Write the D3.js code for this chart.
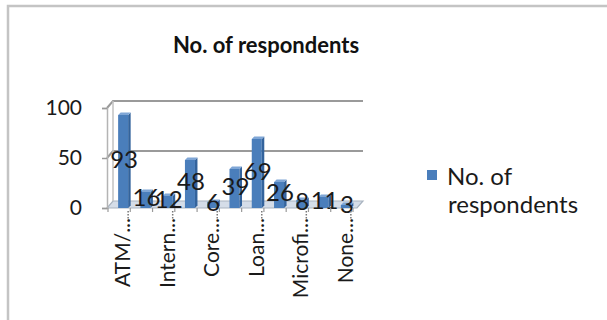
<!DOCTYPE html>
<html>
<head>
<meta charset="utf-8">
<script src="https://cdn.jsdelivr.net/npm/d3@7"></script>
<style>
  html, body { margin: 0; padding: 0; background: #fff; }
  svg { display: block; }
</style>
</head>
<body>
<script>
// Respondents per service (11 categories; only every second axis label is shown)
const categoryLabels = ["ATM/...", null, "Intern...", null, "Core...", null, "Loan...", null, "Microfi...", null, "None..."];
const respondents = [93, 16, 12, 48, 6, 39, 69, 26, 8, 11, 3];
const yTicks = [0, 50, 100];
const seriesName = "No. of respondents";
const chartTitle = "No. of respondents";

const W = 607, H = 320;
const FONT = "Lato, 'Open Sans', sans-serif";
const BAR = "#4a7ebb";

const svg = d3.select("body").append("svg").attr("width", W).attr("height", H);

// chart frame
svg.append("rect").attr("x", 8).attr("y", 6).attr("width", 640).attr("height", 360)
  .attr("fill", "#fff").attr("stroke", "#c4c4c4").attr("stroke-width", 2.5);

svg.append("text").attr("x", 266).attr("y", 53).attr("text-anchor", "middle")
  .attr("font-family", FONT).attr("font-weight", 700).attr("font-size", 22).attr("fill", "#111")
  .text(chartTitle);

// front plane scales; back wall is offset for the 3D look
const x = d3.scaleBand().domain(d3.range(respondents.length)).range([112, 357]);
const y = d3.scaleLinear().domain([0, 100]).range([208, 108]);
const depth = { dx: 6, dy: -7 };
const x0 = 107, x1 = 357;

const g = svg.append("g");

// floor
g.append("path")
  .attr("d", `M${x0},${y(0)} L${x1},${y(0)} L${x1 + depth.dx},${y(0) + depth.dy} L${x0 + depth.dx},${y(0) + depth.dy} Z`)
  .attr("fill", "#d5dde8").attr("stroke", "#a9b3bf").attr("stroke-width", 1.2);

// gridlines on back wall plus side wall
yTicks.forEach(t => {
  if (t === 0) return;
  g.append("path")
    .attr("d", `M${x0},${y(t)} L${x0 + depth.dx},${y(t) + depth.dy} L${x1 + depth.dx},${y(t) + depth.dy}`)
    .attr("fill", "none").attr("stroke", "#9a9a9a").attr("stroke-width", 2);
});
g.append("line").attr("x1", x0 + depth.dx).attr("x2", x0 + depth.dx)
  .attr("y1", y(100) + depth.dy).attr("y2", y(0) + depth.dy)
  .attr("stroke", "#c2c2c2").attr("stroke-width", 1.5);

// value axis
const yAxis = d3.axisLeft(y).tickValues(yTicks).tickSize(5).tickPadding(20);
const ya = g.append("g").attr("transform", `translate(${x0},0)`).call(yAxis);
ya.select(".domain").attr("stroke", "#b4b4b4").attr("stroke-width", 1.5);
ya.selectAll(".tick line").attr("stroke", "#9a9a9a").attr("stroke-width", 1.5);
ya.selectAll(".tick text").attr("font-family", FONT).attr("font-size", 21).attr("fill", "#1a1a1a")
  .attr("dy", "0.3em").attr("x", -25);

// bars
const bw = x.bandwidth() * 0.45;
const bars = g.selectAll(".bar").data(respondents).join("g").attr("class", "bar");
bars.append("rect")
  .attr("x", (d, i) => x(i) + (x.bandwidth() - bw) / 2)
  .attr("y", d => y(d))
  .attr("width", bw)
  .attr("height", d => y(0) - y(d))
  .attr("fill", BAR);
bars.append("path")
  .attr("d", (d, i) => {
    const r = x(i) + (x.bandwidth() + bw) / 2;
    return `M${r},${y(d)} L${r + 2.5},${y(d) - 2.5} L${r + 2.5},${y(0) - 2.5} L${r},${y(0)} Z`;
  })
  .attr("fill", "#33639c");
bars.append("path")
  .attr("d", (d, i) => {
    const l = x(i) + (x.bandwidth() - bw) / 2;
    return `M${l},${y(d)} L${l + bw},${y(d)} L${l + bw + 2.5},${y(d) - 2.5} L${l + 2.5},${y(d) - 2.5} Z`;
  })
  .attr("fill", "#7fa6d6");

// category axis: boundary ticks and labels
const cx = i => x(i) + x.bandwidth() / 2;
d3.range(respondents.length + 1).forEach(i => {
  const xx = 112 + i * x.step() - 4;
  g.append("line").attr("x1", xx).attr("x2", xx).attr("y1", y(0)).attr("y2", y(0) + 4)
    .attr("stroke", "#9a9a9a").attr("stroke-width", 1.2);
});
categoryLabels.forEach((lab, i) => {
  if (!lab) return;
  g.append("line").attr("x1", cx(i) + 5).attr("x2", cx(i) + 5).attr("y1", y(0) + 3).attr("y2", y(0) + 12)
    .attr("stroke", "#777").attr("stroke-width", 1.5).attr("stroke-dasharray", "1.5,1.5");
  g.append("text")
    .attr("transform", `translate(${cx(i) + 7},218) rotate(-90)`)
    .attr("text-anchor", "end")
    .attr("font-family", FONT).attr("font-size", 21).attr("fill", "#1a1a1a")
    .text(lab);
});

// data labels at mid-height of each column
bars.append("text")
  .attr("x", (d, i) => cx(i) + 1)
  .attr("y", d => y(d / 2) - 2)
  .attr("dy", "0.35em")
  .attr("text-anchor", "middle")
  .attr("font-family", FONT).attr("font-size", 24).attr("fill", "#1a1a1a")
  .text(d => d);

// legend
const lg = svg.append("g").attr("transform", "translate(427,170)");
lg.append("rect").attr("width", 10).attr("height", 10).attr("fill", BAR);
const words = seriesName.split(" ");
lg.append("text").attr("x", 20).attr("y", 15)
  .attr("font-family", FONT).attr("font-size", 24).attr("fill", "#1a1a1a")
  .text(words.slice(0, 2).join(" "));
lg.append("text").attr("x", 21).attr("y", 43)
  .attr("font-family", FONT).attr("font-size", 24).attr("fill", "#1a1a1a")
  .text(words.slice(2).join(" "));
</script>
</body>
</html>
